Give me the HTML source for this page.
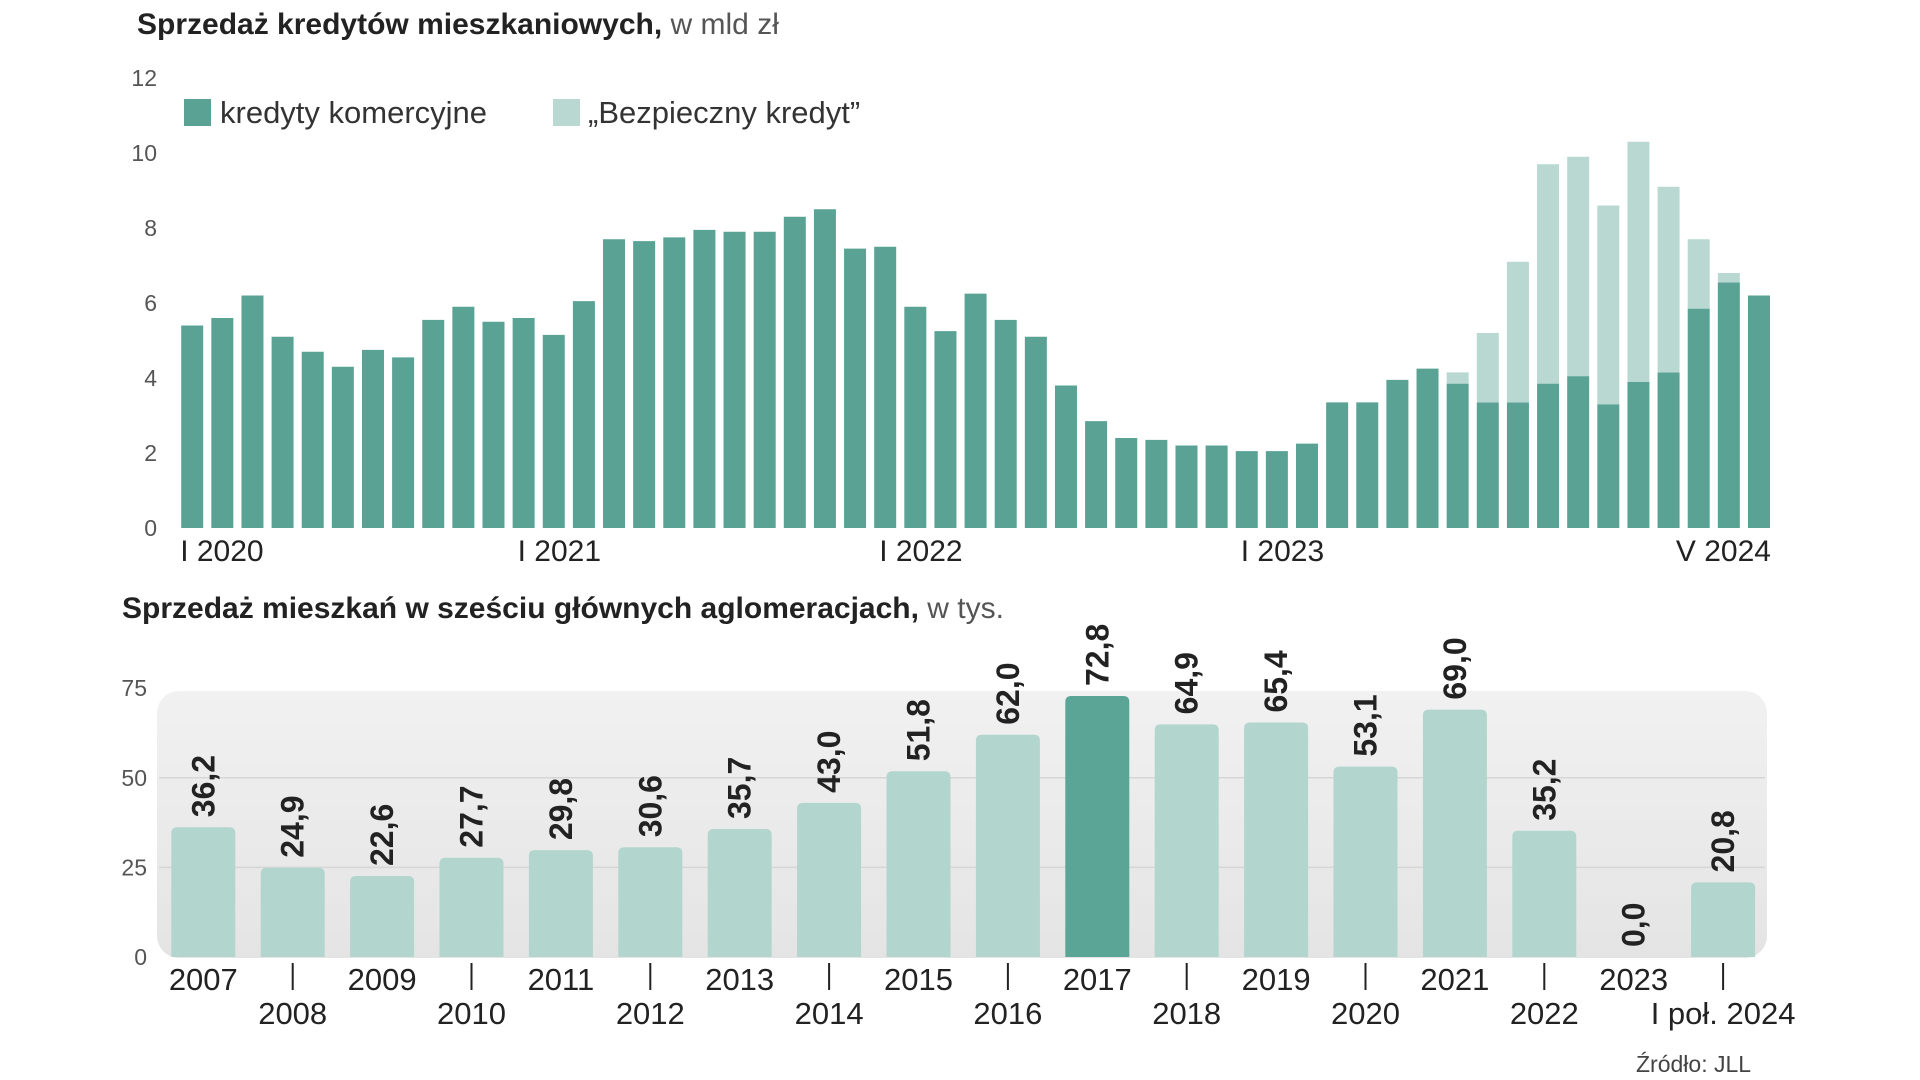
<!DOCTYPE html>
<html><head><meta charset="utf-8">
<style>
html,body{margin:0;padding:0;background:#fff;width:1920px;height:1080px;overflow:hidden}
svg{display:block}
text{font-family:"Liberation Sans Narrow","Liberation Sans",sans-serif}
</style></head>
<body>
<svg id="chart" width="1920" height="1080" viewBox="0 0 1920 1080" xmlns="http://www.w3.org/2000/svg">
<defs>
<linearGradient id="bandGrad" x1="0" y1="0" x2="0" y2="1">
<stop offset="0" stop-color="#f1f1f1"/><stop offset="1" stop-color="#e4e4e4"/>
</linearGradient>
</defs>
<text x="137" y="34" font-size="30" fill="#222"><tspan font-weight="bold">Sprzedaż kredytów mieszkaniowych,</tspan><tspan fill="#555"> w mld zł</tspan></text>
<g>
<rect x="184" y="99" width="27" height="27" fill="#5aa294"/>
<text x="220" y="123" font-size="31" fill="#333">kredyty komercyjne</text>
<rect x="553" y="99" width="27" height="27" fill="#b9d8d2"/>
<text x="588" y="123" font-size="31" fill="#333">„Bezpieczny kredyt”</text>
</g>
<g id="topChart"></g>
<text x="122" y="618" font-size="30" fill="#222"><tspan font-weight="bold">Sprzedaż mieszkań w sześciu głównych aglomeracjach,</tspan><tspan fill="#555"> w tys.</tspan></text>
<rect x="157" y="691" width="1610" height="267" rx="22" fill="url(#bandGrad)"/>
<g id="bottomChart"></g>
<text x="1636" y="1072" font-size="23" fill="#444">Źródło: JLL</text>
</svg>
<script>
// ---- top chart data ----
const monthIdx = Array.from({length:53},(_, i)=>i);
const commercial = [5.4,5.6,6.2,5.1,4.7,4.3,4.75,4.55,5.55,5.9,5.5,5.6,
5.15,6.05,7.7,7.65,7.75,7.95,7.9,7.9,8.3,8.5,7.45,7.5,
5.9,5.25,6.25,5.55,5.1,3.8,2.85,2.4,2.35,2.2,2.2,2.05,
2.05,2.25,3.35,3.35,3.95,4.25,3.85,3.35,3.35,3.85,4.05,3.3,
3.9,4.15,5.85,6.55,6.2];
const safeCredit = [0,0,0,0,0,0,0,0,0,0,0,0,
0,0,0,0,0,0,0,0,0,0,0,0,
0,0,0,0,0,0,0,0,0,0,0,0,
0,0,0,0,0,0,0.3,1.85,3.75,5.85,5.85,5.3,
6.4,4.95,1.85,0.25,0];
const topTicks = [0,2,4,6,8,10,12];
const topXLabelIdx = [0,11,23,35,52];
const topXLabels = ["I 2020","I 2021","I 2022","I 2023","V 2024"];

// ---- bottom chart data ----
const years = ["2007","2008","2009","2010","2011","2012","2013","2014","2015","2016","2017","2018","2019","2020","2021","2022","2023","I poł. 2024"];
const sales = [36.2,24.9,22.6,27.7,29.8,30.6,35.7,43.0,51.8,62.0,72.8,64.9,65.4,53.1,69.0,35.2,0.0,20.8];
const salesLabels = ["36,2","24,9","22,6","27,7","29,8","30,6","35,7","43,0","51,8","62,0","72,8","64,9","65,4","53,1","69,0","35,2","0,0","20,8"];
const bottomTicks = [0,25,50,75];
const highlightYear = "2017";

const NS="http://www.w3.org/2000/svg";
function mk(tag,attrs,parent,txt){const e=document.createElementNS(NS,tag);for(const k in attrs)e.setAttribute(k,attrs[k]);if(txt!==undefined)e.textContent=txt;parent.appendChild(e);return e;}

const tx=i=>192.2+i*30.13;
const ty=v=>528-v*37.5;
const topG=document.getElementById('topChart');
topTicks.forEach(t=>{
  const el=mk('text',{x:157,y:ty(t)+8,'font-size':23,fill:'#555','text-anchor':'end'},topG,String(t));
  
  
});
monthIdx.forEach(i=>{
  const c=commercial[i], s=safeCredit[i];
  const r=mk('rect',{x:tx(i)-11,y:ty(c),width:22,height:ty(0)-ty(c),fill:'#5aa294'},topG);
  
  
  if(s>0){
    const r2=mk('rect',{x:tx(i)-11,y:ty(c+s),width:22,height:ty(c)-ty(c+s),fill:'#b9d8d2'},topG);
    
    
  }
});
topXLabelIdx.forEach((i,k)=>{
  const last=k===topXLabelIdx.length-1;
  const el=mk('text',{x:last?tx(i)+12:(k===0?tx(i)-12:tx(i)-6),y:561,'font-size':30,fill:'#222','text-anchor':last?'end':'start'},topG,topXLabels[k]);
  
  
});

const bx=i=>203.3+i*89.4;
const by=v=>957-v*3.585;
const botG=document.getElementById('bottomChart');
bottomTicks.forEach(t=>{
  if(t>0&&t<75){
    const g=mk('line',{x1:159,x2:1765,y1:by(t),y2:by(t),stroke:'#d6d6d6','stroke-width':1.5},botG);
    
    
  }
  const el=mk('text',{x:147,y:by(t)+8,'font-size':23,fill:'#555','text-anchor':'end'},botG,String(t));
  
  
});
years.forEach((y,i)=>{
  const v=sales[i], x=bx(i);
  if(v>0){
    const w=64, r=6;
    const p=mk('path',{d:`M${x-w/2},${by(0)} V${by(v)+r} Q${x-w/2},${by(v)} ${x-w/2+r},${by(v)} H${x+w/2-r} Q${x+w/2},${by(v)} ${x+w/2},${by(v)+r} V${by(0)} Z`,fill:y===highlightYear?'#5aa595':'#b2d5cd'},botG);
    
    
  }
  const ly=by(v)-10;
  const t=mk('text',{x:x+11,y:ly,'font-size':32,'font-weight':'bold',fill:'#222',transform:`rotate(-90 ${x+11} ${ly})`},botG,salesLabels[i]);
  
  
  const even=i%2===1;
  if(even){
    const tk=mk('line',{x1:x,x2:x,y1:963,y2:990,stroke:'#222','stroke-width':2},botG);
    
    
  }
  const lab=mk('text',{x:x,y:even?1024:990,'font-size':31,fill:'#222','text-anchor':'middle'},botG,y);
  
  
});
</script>
</body></html>
